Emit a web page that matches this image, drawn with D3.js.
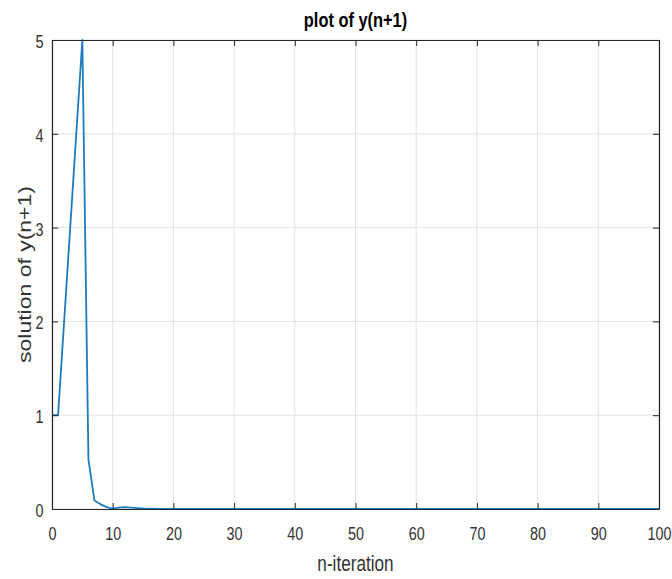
<!DOCTYPE html>
<html><head><meta charset="utf-8">
<script src="https://cdn.jsdelivr.net/npm/d3@7"></script>
<style>body{margin:0;background:#fff;}svg{display:block;}</style>
</head><body>
<script>
const xValues = [0,1,2,3,4,5,6,7,8,9,10,11,12,13,14,15,16,17,18,19,20,21,22,23,24,25,26,27,28,29,30,31,32,33,34,35,36,37,38,39,40,41,42,43,44,45,46,47,48,49,50,51,52,53,54,55,56,57,58,59,60,61,62,63,64,65,66,67,68,69,70,71,72,73,74,75,76,77,78,79,80,81,82,83,84,85,86,87,88,89,90,91,92,93,94,95,96,97,98,99,100];
const yValues = [1,1,2,3,4,5,0.53,0.09,0.05,0.02,0.005,0.015,0.02,0.015,0.01,0.006,0.004,0.003,0.002,0.001,0,0,0,0,0,0,0,0,0,0,0,0,0,0,0,0,0,0,0,0,0,0,0,0,0,0,0,0,0,0,0,0,0,0,0,0,0,0,0,0,0,0,0,0,0,0,0,0,0,0,0,0,0,0,0,0,0,0,0,0,0,0,0,0,0,0,0,0,0,0,0,0,0,0,0,0,0,0,0,0,0];
const xTicks = [0,10,20,30,40,50,60,70,80,90,100];
const yTicks = [0,1,2,3,4,5];
const title = "plot of y(n+1)";
const xLabel = "n-iteration";
const yLabel = "solution of y(n+1)";

const W = 672, H = 579;
const m = {left:52, right:672-659, top:40, bottom:579-509};
const SX = 0.8; // horizontal squeeze of the reference image
const svg = d3.select("body").append("svg").attr("width",W).attr("height",H);
const x = d3.scaleLinear().domain([0,100]).range([m.left, W-m.right]);
const y = d3.scaleLinear().domain([0,5]).range([H-m.bottom, m.top]);
const font = "'Liberation Sans', Arial, sans-serif";
const axisColor = "#262626";

// grid
svg.append("g").selectAll("line").data(xTicks).join("line")
  .attr("x1",d=>x(d)).attr("x2",d=>x(d)).attr("y1",y(0)).attr("y2",y(5))
  .attr("stroke","#e2e2e2").attr("stroke-width",1);
svg.append("g").selectAll("line").data(yTicks).join("line")
  .attr("y1",d=>y(d)).attr("y2",d=>y(d)).attr("x1",x(0)).attr("x2",x(100))
  .attr("stroke","#e2e2e2").attr("stroke-width",1);

// line
svg.append("path").datum(xValues.map((d,i)=>[d,yValues[i]]))
  .attr("fill","none").attr("stroke","#1f7bc0").attr("stroke-width",1.8)
  .attr("stroke-linejoin","round")
  .attr("d", d3.line().x(d=>x(d[0])).y(d=>y(d[1])));

// axes
const xb = svg.append("g").attr("transform",`translate(0,${y(0)})`)
  .call(d3.axisBottom(x).tickValues(xTicks).tickSizeInner(-6).tickSizeOuter(0).tickFormat(d3.format("d")));
const xt = svg.append("g").attr("transform",`translate(0,${y(5)})`)
  .call(d3.axisTop(x).tickValues(xTicks).tickSizeInner(-6).tickSizeOuter(0).tickFormat(""));
const yl = svg.append("g").attr("transform",`translate(${x(0)},0)`)
  .call(d3.axisLeft(y).tickValues(yTicks).tickSizeInner(-6).tickSizeOuter(0).tickFormat(d3.format("d")));
const yr = svg.append("g").attr("transform",`translate(${x(100)},0)`)
  .call(d3.axisRight(y).tickValues(yTicks).tickSizeInner(-6).tickSizeOuter(0).tickFormat(""));
[xb,xt,yl,yr].forEach(g=>{
  g.selectAll("path").attr("stroke",axisColor).attr("stroke-width",1.2);
  g.selectAll("line").attr("stroke",axisColor);
  g.selectAll("text").attr("fill","#333").style("font-family",font).style("font-size","18px");
});
xb.selectAll("text").attr("x",0).attr("y",0).attr("dy",null)
  .attr("transform",`translate(0,31) scale(${SX},1)`);
yl.selectAll("text").attr("x",0).attr("y",0).attr("dy",null)
  .attr("transform",`translate(-8.5,7.5) scale(${SX},1)`);

svg.append("text").attr("transform",`translate(${(x(0)+x(100))/2},27) scale(0.82,1)`).attr("text-anchor","middle")
  .style("font-family",font).style("font-size","20px").style("font-weight","bold").attr("fill","#000")
  .text(title);
svg.append("text").attr("transform",`translate(${(x(0)+x(100))/2},571) scale(0.78,1)`).attr("text-anchor","middle")
  .style("font-family",font).style("font-size","22px").attr("fill","#333").text(xLabel);
svg.append("text").attr("transform",`translate(31,${(y(0)+y(5))/2}) rotate(-90) scale(1,0.78)`).attr("text-anchor","middle")
  .style("font-family",font).style("font-size","23px").attr("fill","#333").text(yLabel);
</script>
</body></html>
